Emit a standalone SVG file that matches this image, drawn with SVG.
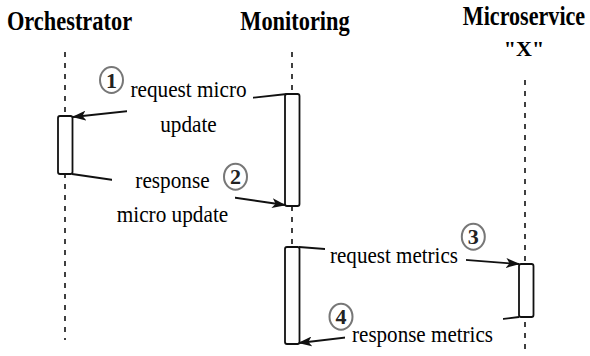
<svg xmlns="http://www.w3.org/2000/svg" width="590" height="356" viewBox="0 0 590 356">
  <style>
    text { font-family: "Liberation Serif", "Times New Roman", "DejaVu Serif", serif; text-anchor: middle; fill: #000; }
    .title { font-weight: bold; font-size: 28px; }
    .label { font-size: 24px; }
    .num { font-weight: bold; font-size: 22px; fill: #222; }
    .life { stroke: #111; stroke-width: 1.6; stroke-dasharray: 5 6; fill: none; }
    .act { fill: #fff; stroke: #111; stroke-width: 1.8; }
    .msg { stroke: #111; stroke-width: 1.8; fill: none; marker-end: url(#arrow); }
    .bg { fill: #fff; stroke: none; }
    .badge { fill: #fff; stroke: #777; stroke-width: 2; }
  </style>
  <defs>
    <marker id="arrow" viewBox="0 0 14 10" refX="13" refY="5" markerUnits="userSpaceOnUse" markerWidth="14" markerHeight="10" orient="auto">
      <path d="M0,0 L14,5 L0,10 L3.5,5 Z" fill="#111"/>
    </marker>
  </defs>

  <rect width="590" height="356" fill="#fff"/>

  <!-- lifelines -->
  <g id="lifelines">
    <line class="life" x1="65" y1="52" x2="65" y2="340"/>
    <line class="life" x1="292" y1="52" x2="292" y2="94"/>
    <line class="life" x1="292" y1="206" x2="292" y2="247"/>
    <line class="life" x1="525" y1="80" x2="525" y2="352"/>
  </g>

  <!-- participants (titles set in a condensed bold serif) -->
  <g id="orchestrator">
    <text class="title" transform="translate(69.5,30) scale(0.8,1)">Orchestrator</text>
    <rect class="act" x="58" y="116" width="14.5" height="58" rx="2"/>
  </g>
  <g id="monitoring">
    <text class="title" transform="translate(295,30) scale(0.8,1)">Monitoring</text>
    <rect class="act" x="285" y="94" width="14.5" height="112" rx="2"/>
    <rect class="act" x="285" y="247" width="14.5" height="97" rx="2"/>
  </g>
  <g id="microservice">
    <text class="title" transform="translate(524,25) scale(0.79,1)">Microservice</text>
    <text class="title" x="524" y="56" style="font-size:22px">"X"</text>
    <rect class="act" x="519" y="264" width="14.5" height="53" rx="2"/>
  </g>

  <!-- messages -->
  <g id="connectors">
    <line class="msg" x1="287" y1="94" x2="73" y2="117"/>
    <line class="msg" x1="72" y1="174" x2="285" y2="205"/>
    <line class="msg" x1="299" y1="247" x2="519" y2="264"/>
    <line class="msg" x1="519" y1="317" x2="299" y2="343"/>
  </g>

  <!-- message labels -->
  <g id="label1">
    <rect class="bg" x="127" y="80" width="126" height="60"/>
    <text class="label" transform="translate(188.5,97) scale(0.885,1)">request micro</text>
    <text class="label" transform="translate(188.5,132) scale(0.885,1)">update</text>
    <ellipse class="badge" cx="111.5" cy="80" rx="11.5" ry="13"/>
    <text class="num" x="111.5" y="87.5">1</text>
  </g>
  <g id="label2">
    <rect class="bg" x="112" y="166" width="123" height="64"/>
    <text class="label" transform="translate(172.5,188) scale(0.885,1)">response</text>
    <text class="label" transform="translate(172.5,222) scale(0.885,1)">micro update</text>
    <ellipse class="badge" cx="235.5" cy="176.7" rx="11.5" ry="13"/>
    <text class="num" x="235.5" y="184">2</text>
  </g>
  <g id="label3">
    <rect class="bg" x="325" y="240" width="141" height="30"/>
    <text class="label" transform="translate(394,263) scale(0.877,1)">request metrics</text>
    <ellipse class="badge" cx="473.3" cy="236.7" rx="11.5" ry="13"/>
    <text class="num" x="473.3" y="244">3</text>
  </g>
  <g id="label4">
    <rect class="bg" x="345" y="318" width="158" height="34"/>
    <text class="label" transform="translate(422.5,342) scale(0.878,1)">response metrics</text>
    <ellipse class="badge" cx="341" cy="316.7" rx="11.5" ry="13"/>
    <text class="num" x="341" y="324">4</text>
  </g>
</svg>
